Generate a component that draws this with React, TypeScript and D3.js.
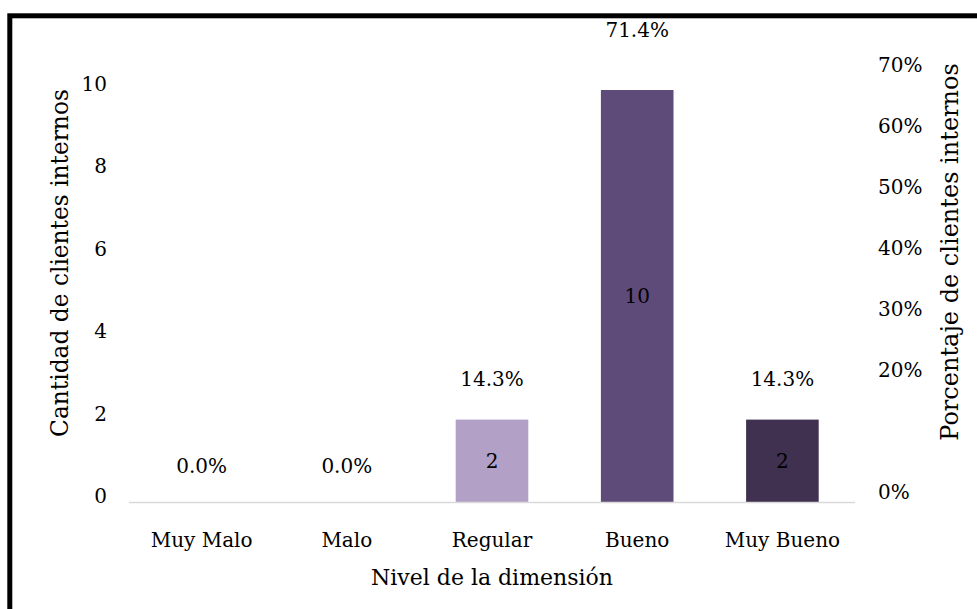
import React from "react";
import * as d3 from "d3";

const categories = ["Muy Malo", "Malo", "Regular", "Bueno", "Muy Bueno"];
const counts = [0, 0, 2, 10, 2];
const percents = [0.0, 0.0, 0.143, 0.714, 0.143];
const leftTicks = [0, 2, 4, 6, 8, 10];
const rightTicks = [0, 0.2, 0.3, 0.4, 0.5, 0.6, 0.7];
const barColors = ["#c9bbd9", "#8e7aa8", "#b2a0c7", "#5f4b7a", "#403151"];

const W = 977;
const H = 609;
const FONT = "'DejaVu Serif', serif";

export default function App() {
  const x = d3.scaleBand<string>().domain(categories).range([129, 855]).paddingInner(0.5).paddingOuter(0.25);
  const y = d3.scaleLinear().domain([0, 10]).range([502, 90]);
  const yr = d3.scaleLinear().domain([0, 0.7]).range([492, 65]);
  const color = d3.scaleOrdinal<string, string>().domain(categories).range(barColors);
  const pctFmt = d3.format(".1%");
  const tickPct = d3.format(".0%");

  return (
    <svg width={W} height={H} style={{ position: "absolute", left: 0, top: 0, background: "#fff" }} fontFamily={FONT}>
      <rect x={0} y={0} width={W} height={H} fill="#fff" />
      <rect x={9.8} y={15.8} width={1100} height={1100} fill="none" stroke="#000" strokeWidth={5} />

      {/* bars */}
      {categories.map((c, i) => (
        <rect key={c} x={x(c)} y={y(counts[i])} width={x.bandwidth()} height={y(0) - y(counts[i])} fill={color(c)} />
      ))}

      {/* axis line */}
      <line x1={129} x2={855} y1={y(0) + 0.5} y2={y(0) + 0.5} stroke="#d9d9d9" strokeWidth={1.5} />

      {/* count labels */}
      {categories.map((c, i) =>
        counts[i] > 0 ? (
          <text key={c} x={x(c)! + x.bandwidth() / 2} y={(y(counts[i]) + y(0)) / 2} textAnchor="middle" dominantBaseline="central" fontSize={20} fill="#000">
            {counts[i]}
          </text>
        ) : null
      )}

      {/* percent labels */}
      {categories.map((c, i) => (
        <text key={c} x={x(c)! + x.bandwidth() / 2} y={yr(percents[i]) - 26} textAnchor="middle" dominantBaseline="central" fontSize={20} fill="#000">
          {pctFmt(percents[i])}
        </text>
      ))}

      {/* left ticks */}
      {leftTicks.map((t) => (
        <text key={t} x={107} y={y(t) - 6} textAnchor="end" dominantBaseline="central" fontSize={20} fill="#000">
          {t}
        </text>
      ))}

      {/* right ticks */}
      {rightTicks.map((t) => (
        <text key={t} x={878} y={yr(t)} textAnchor="start" dominantBaseline="central" fontSize={20} fill="#000">
          {tickPct(t)}
        </text>
      ))}

      {/* category labels */}
      {categories.map((c) => (
        <text key={c} x={x(c)! + x.bandwidth() / 2} y={540} textAnchor="middle" dominantBaseline="central" fontSize={20} fill="#000">
          {c}
        </text>
      ))}

      {/* axis titles */}
      <text x={492} y={577} textAnchor="middle" dominantBaseline="central" fontSize={22} fill="#000">
        Nivel de la dimensión
      </text>
      <text transform="translate(59,263) rotate(-90)" textAnchor="middle" dominantBaseline="central" fontSize={23.3} fill="#000">
        Cantidad de clientes internos
      </text>
      <text transform="translate(950,252) rotate(-90)" textAnchor="middle" dominantBaseline="central" fontSize={24} fill="#000">
        Porcentaje de clientes internos
      </text>
    </svg>
  );
}
